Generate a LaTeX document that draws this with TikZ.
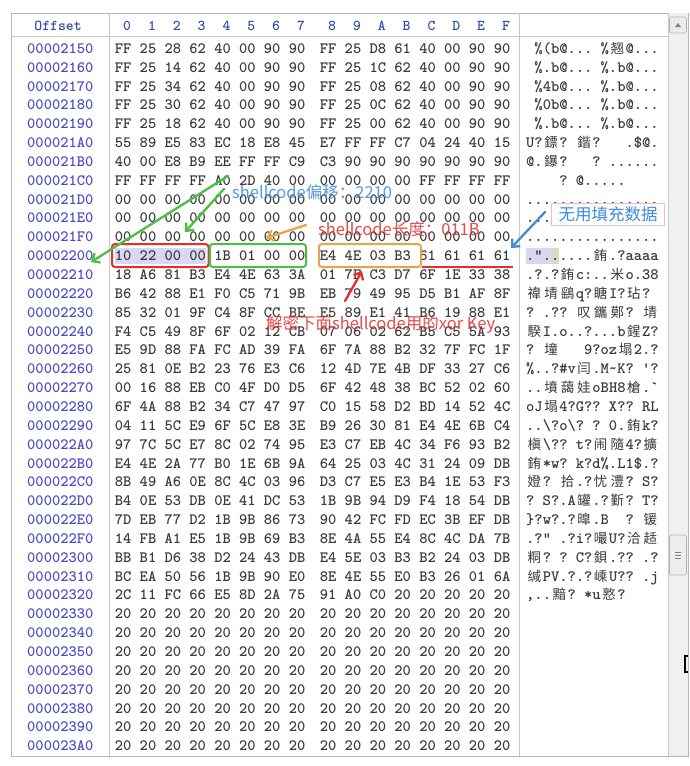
\documentclass[tikz,border=0pt]{standalone}
\usepackage{fontspec}
\newfontfamily\cjk{Noto Sans CJK SC}
\newfontfamily\hexfont{lmmonolt10-bold.otf}
\usetikzlibrary{arrows.meta}
\definecolor{hexc}{HTML}{3A3A3A}
\definecolor{offc}{HTML}{4C4CC8}
\definecolor{hdrc}{HTML}{2F4FA8}
\definecolor{linec}{HTML}{C8C8C8}
\definecolor{framec}{HTML}{B4B4B4}
\definecolor{selc}{HTML}{D8D8F4}
\definecolor{selk}{HTML}{DCDCC4}
\definecolor{redc}{HTML}{E23030}
\definecolor{grnc}{HTML}{4CBE44}
\definecolor{orgc}{HTML}{E8A544}
\definecolor{bluc}{HTML}{3C8CE0}
\definecolor{pinkc}{HTML}{F2BCC4}
\definecolor{sbc}{HTML}{F0F0F0}
\newcommand\mono{\hexfont\fontsize{15.77}{18}\selectfont}
\newcommand\monob{\hexfont\fontsize{15}{18}\selectfont}
\newcommand\notefont{\cjk\fontsize{16.5}{18}\selectfont}
\newcommand\cj[1]{\makebox[16.56pt]{\cjk\fontsize{13.5}{14}\selectfont #1}}
\tikzset{
  offs/.style={anchor=base west, inner sep=0pt, font=\mono, text=offc},
  hexs/.style={anchor=base west, inner sep=0pt, font=\mono, text=hexc},
  txts/.style={anchor=base west, inner sep=0pt, font=\mono, text=hexc},
  hdr/.style={anchor=base, inner sep=0pt, font=\monob, text=hdrc},
  note/.style={anchor=west, inner sep=0pt, font=\notefont, text opacity=0.88},
  arr/.style={line width=2.3pt, -{Straight Barb[length=6pt,width=11pt]}, line cap=round},
  hlbox/.style={line width=2pt, rounded corners=3pt},
}
\newcommand\hexrow[5]{%
  \pgfmathsetmacro\yy{48.5+18.85*#1+4.8}%
  \node[offs] (o#1) at (27,\yy) {#2};
  \node[hexs] (l#1) at (114.7,\yy) {#3};
  \node[hexs] (r#1) at (319.7,\yy) {#4};
  \node[txts] (t#1) at (526,\yy) {#5};
}
\begin{document}
\begin{tikzpicture}[x=1pt,y=-1pt]
\useasboundingbox (0,0) rectangle (689,766);
\fill[white] (0,0) rectangle (689,766);
% window frame
\draw[framec, line width=0.8pt] (11,13) rectangle (688,756);
\draw[linec, line width=0.8pt] (11,36) -- (668,36);
\draw[linec, line width=0.8pt] (109.3,13) -- (109.3,756);
\draw[linec, line width=0.8pt] (519.3,13) -- (519.3,756);
% scrollbar
\fill[sbc] (668,13.4) rectangle (687.6,755.6);
\draw[linec, line width=0.6pt] (668,13) -- (668,756);
\draw[framec, fill=white!92!black, rounded corners=1.5pt, line width=0.6pt] (669.5,17) rectangle (686.5,33);
\fill[gray] (675,27) -- (681,27) -- (678,23) -- cycle;
\draw[framec, fill=white!93!black, rounded corners=2pt, line width=0.6pt] (669.5,535) rectangle (686.5,575);
\draw[gray, line width=0.6pt] (675,552) -- (681,552) (675,555) -- (681,555) (675,558) -- (681,558);
\draw[black, line width=1.1pt] (688,656) -- (685,656) -- (685,672) -- (688,672);
% header
\node[hdr] (hoff) at (58,30) {Offset};
\foreach \d [count=\i from 0] in {0,1,2,3,4,5,6,7}
  {\node[hdr] (h\d) at ({127.1+24.84*\i},30) {\d};}
\foreach \d [count=\i from 0] in {8,9,A,B,C,D,E,F}
  {\node[hdr] (h\d) at ({332.1+24.84*\i},30) {\d};}
% selection
\fill[selc] (114.7,247.5) rectangle (206,264.2);
\fill[selc] (526,247.5) rectangle (550.8,264.2);
\fill[selk] (550.8,247.5) rectangle (559.1,264.2);
% rows
\hexrow{0}{00002150}{FF 25 28 62 40 00 90 90}{FF 25 D8 61 40 00 90 90}{~\%(b@...~\%\cj{翘}@...}
\hexrow{1}{00002160}{FF 25 14 62 40 00 90 90}{FF 25 1C 62 40 00 90 90}{~\%.b@...~\%.b@...}
\hexrow{2}{00002170}{FF 25 34 62 40 00 90 90}{FF 25 08 62 40 00 90 90}{~\%4b@...~\%.b@...}
\hexrow{3}{00002180}{FF 25 30 62 40 00 90 90}{FF 25 0C 62 40 00 90 90}{~\%0b@...~\%.b@...}
\hexrow{4}{00002190}{FF 25 18 62 40 00 90 90}{FF 25 00 62 40 00 90 90}{~\%.b@...~\%.b@...}
\hexrow{5}{000021A0}{55 89 E5 83 EC 18 E8 45}{E7 FF FF C7 04 24 40 15}{U?\cj{鏢}?~\cj{鍇}?~~~.\$@.}
\hexrow{6}{000021B0}{40 00 E8 B9 EE FF FF C9}{C3 90 90 90 90 90 90 90}{@.\cj{鑤}?~~~?~......}
\hexrow{7}{000021C0}{FF FF FF FF A0 2D 40 00}{00 00 00 00 FF FF FF FF}{~~~~?~@.....}
\hexrow{8}{000021D0}{00 00 00 00 00 00 00 00}{00 00 00 00 00 00 00 00}{................}
\hexrow{9}{000021E0}{00 00 00 00 00 00 00 00}{00 00 00 00 00 00 00 00}{...}
\hexrow{10}{000021F0}{00 00 00 00 00 00 00 00}{00 00 00 00 00 00 00 00}{................}
\hexrow{11}{00002200}{10 22 00 00 1B 01 00 00}{E4 4E 03 B3 61 61 61 61}{."......\cj{銪}.?aaaa}
\hexrow{12}{00002210}{18 A6 81 B3 E4 4E 63 3A}{01 7F C3 D7 6F 1E 33 38}{.?.?\cj{銪}c:..\cj{米}o.38}
\hexrow{13}{00002220}{B6 42 88 E1 F0 C5 71 9B}{EB 79 49 95 D5 B1 AF 8F}{\cj{禕}\cj{埥}\cj{鷂}q?\cj{瞊}I?\cj{玷}?}
\hexrow{14}{00002230}{85 32 01 9F C4 8F CC BE}{E5 89 E1 41 B6 19 88 E1}{?~.??~\cj{叹}\cj{鑴}\cj{鄚}?~\cj{埥}}
\hexrow{15}{00002240}{F4 C5 49 8F 6F 02 12 CB}{07 06 02 62 B5 C5 5A 93}{\cj{騤}I.o..?...b\cj{鍟}Z?}
\hexrow{16}{00002250}{E5 9D 88 FA FC AD 39 FA}{6F 7A 88 B2 32 7F FC 1F}{?~\cj{墥}~~~9?oz\cj{塌}2.?}
\hexrow{17}{00002260}{25 81 0E B2 23 76 E3 C6}{12 4D 7E 4B DF 33 27 C6}{\%..?\#v\cj{闫}.M\textasciitilde K?~'?}
\hexrow{18}{00002270}{00 16 88 EB C0 4F D0 D5}{6F 42 48 38 BC 52 02 60}{..\cj{墳}\cj{藹}\cj{娃}oBH8\cj{槍}.\textasciigrave}
\hexrow{19}{00002280}{6F 4A 88 B2 34 C7 47 97}{C0 15 58 D2 BD 14 52 4C}{oJ\cj{塌}4?G??~X??~RL}
\hexrow{20}{00002290}{04 11 5C E9 6F 5C E8 3E}{B9 26 30 81 E4 4E 6B C4}{..\textbackslash?o\textbackslash?~?~0.\cj{銪}k?}
\hexrow{21}{000022A0}{97 7C 5C E7 8C 02 74 95}{E3 C7 EB 4C 34 F6 93 B2}{\cj{槇}\textbackslash??~t?\cj{闹}\cj{隨}4?\cj{擴}}
\hexrow{22}{000022B0}{E4 4E 2A 77 B0 1E 6B 9A}{64 25 03 4C 31 24 09 DB}{\cj{銪}*w?~k?d\%.L1\$.?}
\hexrow{23}{000022C0}{8B 49 A6 0E 8C 4C 03 96}{D3 C7 E5 E3 B4 1E 53 F3}{\cj{嬁}?~\cj{拾}.?\cj{忧}\cj{澧}?~S?}
\hexrow{24}{000022D0}{B4 0E 53 DB 0E 41 DC 53}{1B 9B 94 D9 F4 18 54 DB}{?~S?.A\cj{罐}.?\cj{斳}?~T?}
\hexrow{25}{000022E0}{7D EB 77 D2 1B 9B 86 73}{90 42 FC FD EC 3B EF DB}{\}?w?.?\cj{曍}.B~~?~\cj{锾}}
\hexrow{26}{000022F0}{14 FB A1 E5 1B 9B 69 B3}{8E 4A 55 E4 8C 4C DA 7B}{.?"~.?i?\cj{嘬}U?\cj{洽}\cj{趏}}
\hexrow{27}{00002300}{BB B1 D6 38 D2 24 43 DB}{E4 5E 03 B3 B2 24 03 DB}{\cj{粡}?~?~C?\cj{鋇}.??~.?}
\hexrow{28}{00002310}{BC EA 50 56 1B 9B 90 E0}{8E 4E 55 E0 B3 26 01 6A}{\cj{缄}PV.?.?\cj{嵊}U??~.j}
\hexrow{29}{00002320}{2C 11 FC 66 E5 8D 2A 75}{91 A0 C0 20 20 20 20 20}{,..\cj{黯}?~*u\cj{憝}?}
\hexrow{30}{00002330}{20 20 20 20 20 20 20 20}{20 20 20 20 20 20 20 20}{}
\hexrow{31}{00002340}{20 20 20 20 20 20 20 20}{20 20 20 20 20 20 20 20}{}
\hexrow{32}{00002350}{20 20 20 20 20 20 20 20}{20 20 20 20 20 20 20 20}{}
\hexrow{33}{00002360}{20 20 20 20 20 20 20 20}{20 20 20 20 20 20 20 20}{}
\hexrow{34}{00002370}{20 20 20 20 20 20 20 20}{20 20 20 20 20 20 20 20}{}
\hexrow{35}{00002380}{20 20 20 20 20 20 20 20}{20 20 20 20 20 20 20 20}{}
\hexrow{36}{00002390}{20 20 20 20 20 20 20 20}{20 20 20 20 20 20 20 20}{}
\hexrow{37}{000023A0}{20 20 20 20 20 20 20 20}{20 20 20 20 20 20 20 20}{}
% highlight boxes
\draw[hlbox, redc] (112,244) rectangle (208.5,267);
\draw[hlbox, grnc] (209.8,244) rectangle (306,267);
\draw[hlbox, orgc] (319,244) rectangle (421,267);
\draw[redc, line width=2pt] (422,266.5) -- (513,266.5);
% notes
\node[note, text=bluc] (n1) at (232,192) {shellcode偏移：2210};
\node[note, text=redc] (n2) at (318,229) {shellcode长度：011B};
\node[note, text=redc] (n3) at (266,324) {解密下面shellcode用的xor Key};
\node[draw=pinkc, fill=white, line width=0.6pt, inner xsep=7pt, minimum height=22pt, font=\notefont, text=bluc] (n4) at (608,214) {无用填充数据};
% arrows
\coordinate (g1s) at (228,176);
\coordinate (g1e) at (91,262);
\coordinate (g2s) at (224,189);
\coordinate (g2e) at (185,232);
\coordinate (o1s) at (306,225);
\coordinate (o1e) at (266,238);
\coordinate (r1s) at (345,301);
\coordinate (r1e) at (362,271);
\coordinate (b1s) at (545,212);
\coordinate (b1e) at (511,248);
\draw[arr, grnc] (g1s) -- (g1e);
\draw[arr, grnc] (g2s) -- (g2e);
\draw[arr, orgc] (o1s) -- (o1e);
\draw[arr, redc] (r1s) -- (r1e);
\draw[arr, bluc] (b1s) -- (b1e);
\end{tikzpicture}
\end{document}
